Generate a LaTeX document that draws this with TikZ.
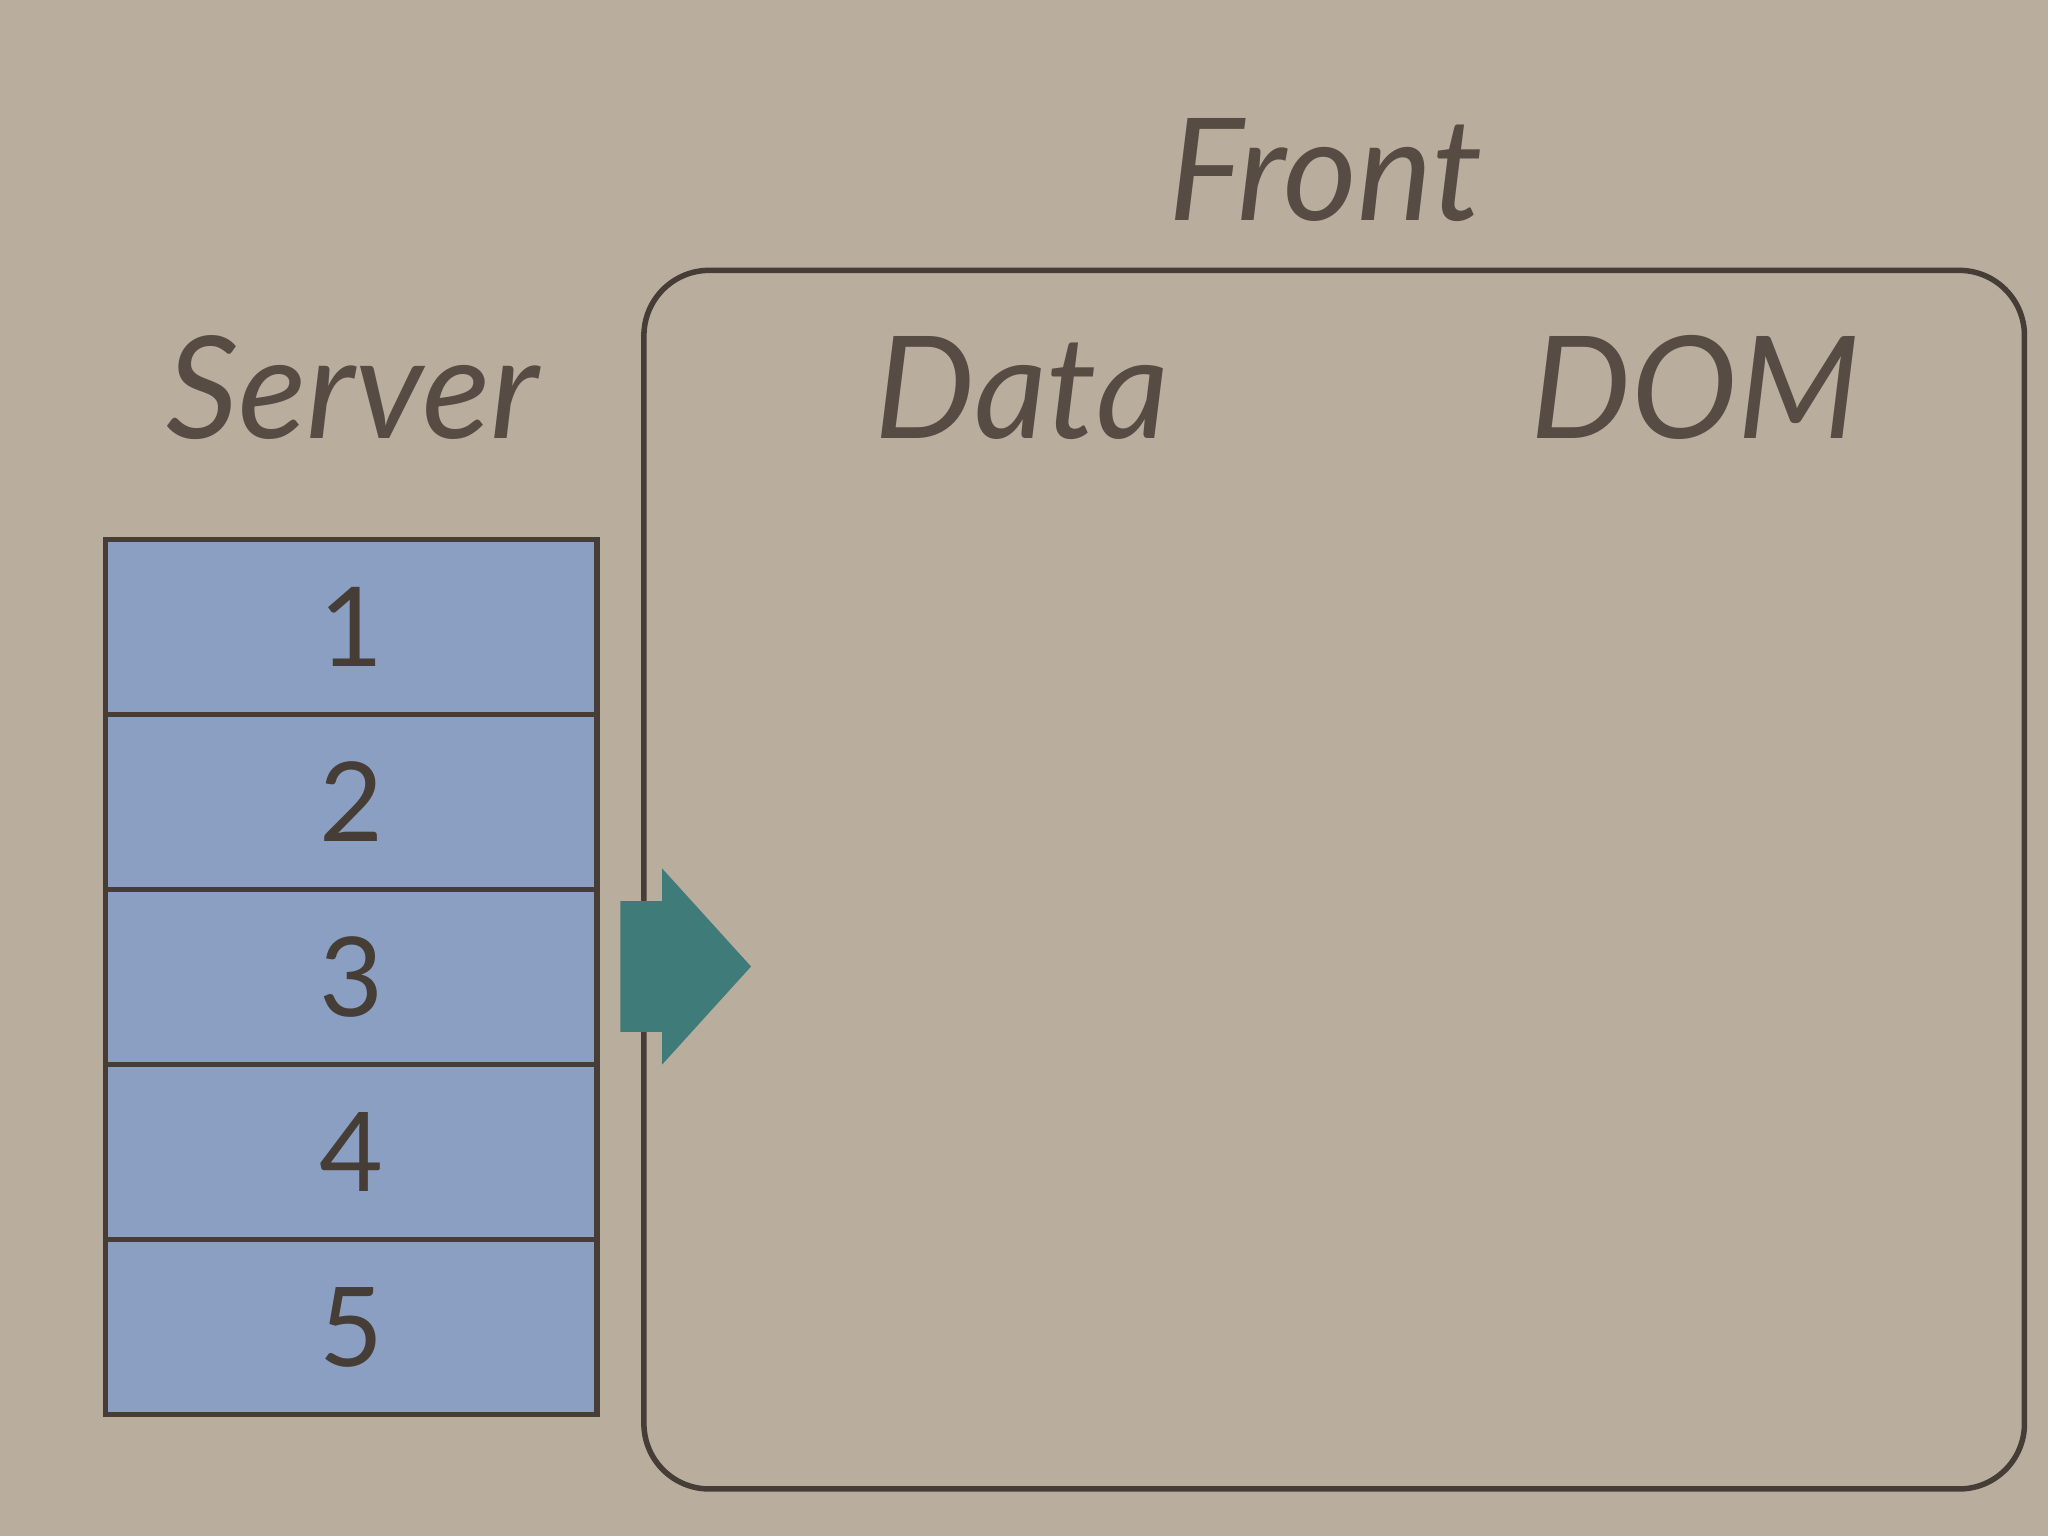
\documentclass[tikz,border=0pt]{standalone}
\usepackage{fontspec}
\setmainfont{Lato}
\usetikzlibrary{positioning}
\definecolor{paper}{HTML}{B9AD9E}
\definecolor{ink}{HTML}{574C44}
\definecolor{rowblue}{HTML}{8A9FC1}
\definecolor{teal}{HTML}{3F7B78}
\tikzset{
	title/.style={text=ink, font=\itshape\fontsize{31}{36}\selectfont},
	row/.style={draw=ink!80!black, line width=1.2pt, fill=rowblue, minimum width=3.76cm, minimum height=1.34cm, inner sep=0pt, outer sep=0pt, text=ink!80!black, font=\fontsize{24}{29}\selectfont},
}
\begin{document}
\begin{tikzpicture}[x=0.01cm, y=0.01cm]

	\fill[paper] (0,0) rectangle (1568,1176);
	\useasboundingbox (0,0) rectangle (1568,1176);

	\node[title] (front) at (1015,1046) {Front};
	\node[title] (server) at (270,879) {Server};
	\node[title] (data) at (782,879) {Data};
	\node[title] (dom) at (1298,879) {DOM};

	\draw[ink!80!black, line width=1.2pt, rounded corners=0.5cm] (493,36) rectangle (1550,969);

	\foreach \i in {1,...,5}
		\node[row] (r\i) at (269,{763-134*(\i-0.5)}) {\i};

	% push arrow
	\fill[teal] (475,486) -- (507,486) -- (507,511) -- (575,436) -- (507,361) -- (507,386) -- (475,386) -- cycle;

\end{tikzpicture}
\end{document}
